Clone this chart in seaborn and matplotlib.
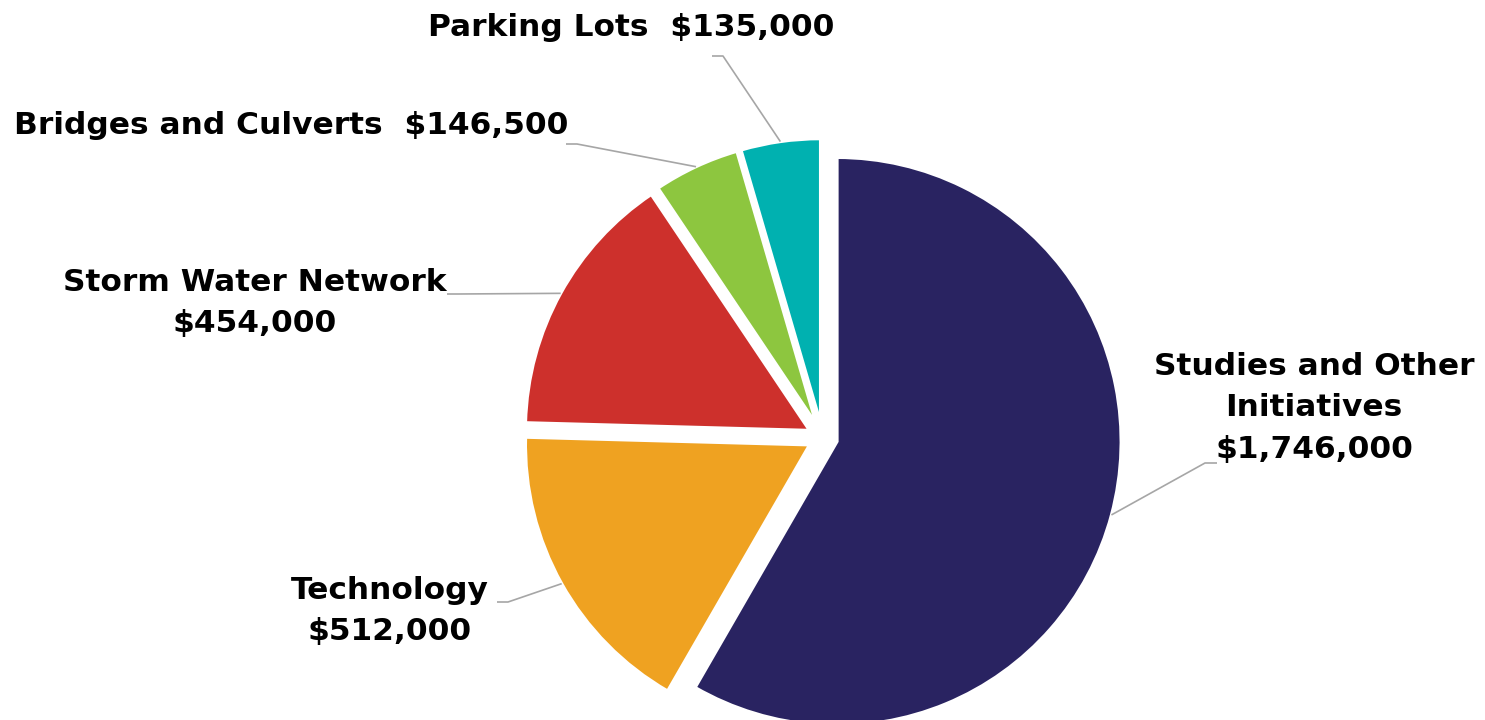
import numpy as np
import matplotlib
matplotlib.use("Agg")
import matplotlib.pyplot as plt
import seaborn as sns

# data
categories = ["Studies and Other Initiatives", "Technology", "Storm Water Network",
              "Bridges and Culverts", "Parking Lots"]
amounts = [1746000, 512000, 454000, 146500, 135000]
labels = ["Studies and Other\nInitiatives\n$1,746,000",
          "Technology\n$512,000",
          "Storm Water Network\n$454,000",
          "Bridges and Culverts  $146,500",
          "Parking Lots  $135,000"]
colors = ["#292361", "#EFA221", "#CD302C", "#8DC63F", "#00B1B0"]

W, H = 1485, 720

sns.set_style("white")
plt.rcParams['font.family'] = ['DejaVu Sans']

fig = plt.figure(figsize=(W / 100, H / 100), dpi=100)
ax = fig.add_axes([0, 0, 1, 1])

# pie layout in pixel units (y measured from the top); explode is absolute
cx, cy, R = 822.6, 437.6, 284
wedges, _ = ax.pie(amounts, colors=sns.color_palette(colors), startangle=90,
                   counterclock=False, radius=R, center=(cx, H - cy),
                   explode=[15] * len(amounts),
                   wedgeprops=dict(edgecolor="white", linewidth=2.2))

ax.set_xlim(0, W)
ax.set_ylim(0, H)
ax.set_aspect("equal")
ax.axis("off")

# label text centre and leader-line start/elbow (pixels from top)
text_pos = [(1314, 408), (390, 611), (255, 303), (291, 126), (631, 28)]
leader = [((1217, 463), (1205, 463)),
          ((497, 602), (508, 602)),
          ((447, 294), (458, 294)),
          ((566, 144), (577, 144)),
          ((712, 56), (723, 56))]

for w, lab, (tx, ty), (p0, p1) in zip(wedges, labels, text_pos, leader):
    ang = np.deg2rad((w.theta1 + w.theta2) / 2)
    ex = w.center[0] + w.r * np.cos(ang)
    ey = w.center[1] + w.r * np.sin(ang)
    ax.plot([p0[0], p1[0], ex], [H - p0[1], H - p1[1], ey],
            color="#A6A6A6", lw=1.2, solid_capstyle="butt")
    ax.text(tx, H - ty, lab, ha="center", va="center", fontsize=22.5,
            fontweight="bold", color="black", linespacing=1.55)

fig.savefig("out.png", dpi=100)
